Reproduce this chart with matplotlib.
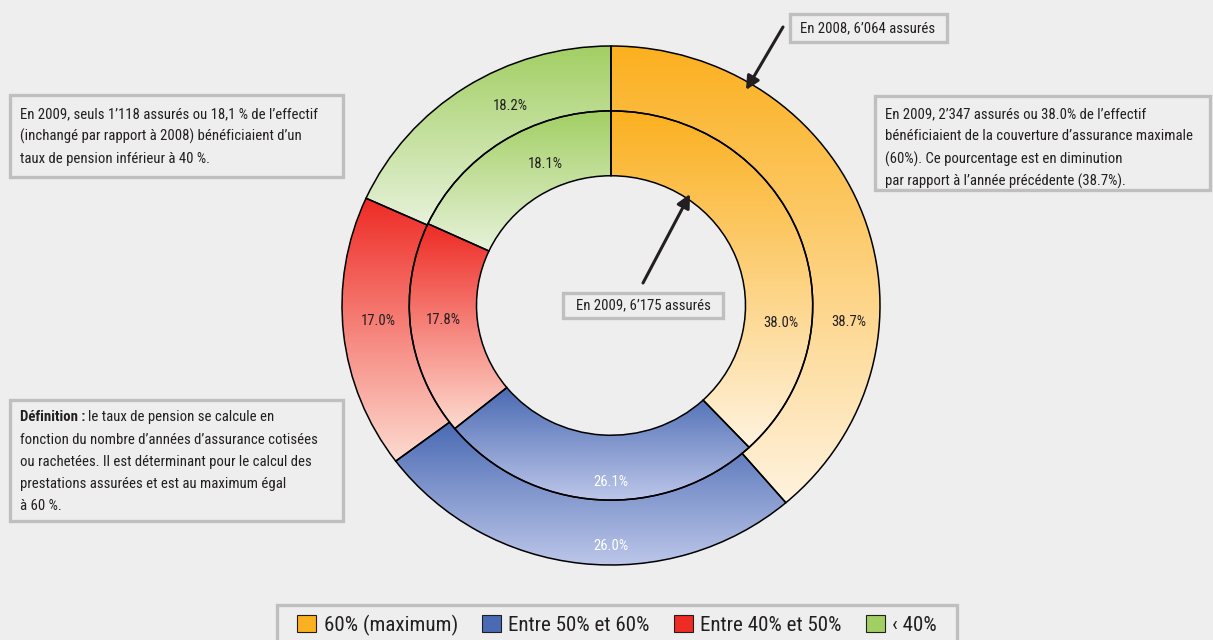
"""
Taux de pension des assures : anneau exterieur 2008, anneau interieur 2009.
Chaque secteur est rempli d'un degrade vertical (fonce en haut, pale en bas).
Sortie : out.png
"""

import numpy as np
import matplotlib.pyplot as plt
from matplotlib import font_manager
from matplotlib.colors import LinearSegmentedColormap
from matplotlib.patches import Rectangle, Patch

# police etroite si disponible, sinon on se rabat sur ce qui existe
dispo = {f.name for f in font_manager.fontManager.ttflist}
POLICE = next((n for n in ["Liberation Sans Narrow", "Roboto Condensed", "Open Sans Condensed",
                           "Noto Sans Display", "Lato", "Roboto"] if n in dispo), "DejaVu Sans")
plt.rcParams["font.family"] = [POLICE, "DejaVu Sans"]

W, H = 1213, 640
FOND = "#eeeeee"
GRIS = "#bfbfbf"
NOIR = "#231f20"

categories = ["60% (maximum)", "Entre 50% et 60%", "Entre 40% et 50%", "\u2039 40%"]
part_2008 = [38.7, 26.0, 17.0, 18.2]   # anneau exterieur
part_2009 = [38.0, 26.1, 17.8, 18.1]   # anneau interieur

couleur_haut = ["#fbb01f", "#4a6ab3", "#ee2b25", "#a2cf63"]
couleur_bas = ["#fff3df", "#bcc6e9", "#fddbd0", "#e7f2da"]
couleur_texte = [NOIR, "white", NOIR, NOIR]

# etiquettes placees a la main comme dans l'original : (angle en degres, rayon)
pos_2008 = [(-4, 0.885), (-90, 0.925), (184, 0.868), (116, 0.856)]
pos_2009 = [(-6, 0.635), (-90, 0.68), (185, 0.626), (114, 0.598)]

# centre et rayons de l'anneau en pixels (l'original est un peu etire en largeur)
CX, CY = 611, 305.5
RX, RY = 269, 259.5

TAILLE = 10      # recalculee dans main() selon la largeur mesuree
TAILLE_LEG = 14


def taille_pour(fig, s, largeur, **kw):
    # taille de police telle que s occupe `largeur` pixels
    t = fig.text(0, 0, s, fontsize=10, **kw)
    fig.canvas.draw()
    w = t.get_window_extent(fig.canvas.get_renderer()).width
    t.remove()
    return 10 * largeur / w


def boite(fig, x0, y0, x1, y1):
    # cadre gris, coordonnees en pixels depuis le coin haut gauche
    fig.add_artist(Rectangle((x0 / W, 1 - y1 / H), (x1 - x0) / W, (y1 - y0) / H,
                             transform=fig.transFigure, fc=FOND, ec=GRIS, lw=2.4))


def texte(fig, x, y, s, **kw):
    return fig.text(x / W, 1 - y / H, s, color=NOIR, fontsize=TAILLE, va="center", **kw)


def anneau(ax, parts, rayon):
    wedges, _ = ax.pie(parts, radius=rayon, startangle=90, counterclock=False,
                       colors=couleur_haut,
                       wedgeprops=dict(width=0.25, edgecolor="black", linewidth=1.1))
    grad = np.linspace(0, 1, 256).reshape(-1, 1)
    for w, haut, bas in zip(wedges, couleur_haut, couleur_bas):
        w.set_facecolor("none")
        w.set_zorder(3)
        bb = w.get_path().get_extents()
        cmap = LinearSegmentedColormap.from_list("", [bas, haut])
        im = ax.imshow(grad, cmap=cmap, origin="lower", aspect="auto",
                       extent=[bb.x0, bb.x1, bb.y0, bb.y1], zorder=2,
                       interpolation="bilinear")
        im.set_clip_path(w)


def etiquettes(ax, parts, positions):
    for v, (a, r), c in zip(parts, positions, couleur_texte):
        t = np.radians(a)
        ax.text(r * np.cos(t), r * np.sin(t), f"{v:.1f}%", ha="center", va="center",
                color=c, fontsize=TAILLE, zorder=4)


def fleche(ax, x0, y0, x1, y1):
    ax.annotate("", xy=(x1, H - y1), xycoords="figure pixels",
                xytext=(x0, H - y0), textcoords="figure pixels",
                arrowprops=dict(arrowstyle="-|>", color=NOIR, lw=2.2,
                                mutation_scale=20, shrinkA=0, shrinkB=0),
                zorder=6)


def main():
    global TAILLE, TAILLE_LEG
    fig = plt.figure(figsize=(W / 100, H / 100), dpi=100, facecolor=FOND)

    TAILLE = taille_pour(fig, "En 2009, seuls 1\u2019118 assurés ou 18,1 % de l\u2019effectif", 293)
    TAILLE_LEG = taille_pour(fig, "60% (maximum)", 133)

    ax = fig.add_axes([0, 0, 1, 1])
    ax.set_facecolor("none")

    anneau(ax, part_2008, 1.0)
    anneau(ax, part_2009, 0.75)
    etiquettes(ax, part_2008, pos_2008)
    etiquettes(ax, part_2009, pos_2009)

    ax.set_aspect("auto")
    ax.set_xlim(-CX / RX, (W - CX) / RX)
    ax.set_ylim(-(H - CY) / RY, CY / RY)
    ax.axis("off")

    # encadres de commentaires
    boite(fig, 790, 14, 947, 42)
    texte(fig, 868, 28, "En 2008, 6\u2019064 assurés", ha="center")

    boite(fig, 563, 293, 723, 318)
    texte(fig, 643, 305.5, "En 2009, 6\u2019175 assurés", ha="center")

    boite(fig, 10, 95, 343, 177)
    lignes = ["En 2009, seuls 1\u2019118 assurés ou 18,1 % de l\u2019effectif",
              "(inchangé par rapport à 2008) bénéficiaient d\u2019un",
              "taux de pension inférieur à 40 %."]
    for i, s in enumerate(lignes):
        texte(fig, 20, 114 + i * 22.5, s)

    boite(fig, 875, 96, 1210, 190)
    lignes = ["En 2009, 2\u2019347 assurés ou 38.0% de l\u2019effectif",
              "bénéficiaient de la couverture d\u2019assurance maximale",
              "(60%). Ce pourcentage est en diminution",
              "par rapport à l\u2019année précédente (38.7%)."]
    for i, s in enumerate(lignes):
        texte(fig, 885, 114 + i * 22.5, s)

    boite(fig, 10, 400, 343, 521)
    gras = texte(fig, 20, 417, "Définition :", fontweight="bold")
    fig.canvas.draw()
    bb = gras.get_window_extent(fig.canvas.get_renderer())
    texte(fig, bb.x1 + 3, 417, "le taux de pension se calcule en")
    lignes = ["fonction du nombre d\u2019années d\u2019assurance cotisées",
              "ou rachetées. Il est déterminant pour le calcul des",
              "prestations assurées et est au maximum égal",
              "à 60 %."]
    for i, s in enumerate(lignes):
        texte(fig, 20, 439.5 + i * 22.3, s)

    fleche(ax, 783, 27, 746, 90)
    fleche(ax, 643, 283, 690, 194)

    # legende : cadre dessine a part (marges laterales plus larges qu'en haut)
    boite(fig, 277, 605, 957, 655)
    poignees = [Patch(fc=c, ec=NOIR, lw=0.8) for c in couleur_haut]
    leg = fig.legend(poignees, categories, ncol=4, loc="center",
                     bbox_to_anchor=(617 / W, 1 - 625 / H), fontsize=TAILLE_LEG,
                     handlelength=0.9, handleheight=0.9, handletextpad=0.35,
                     columnspacing=1.15, borderpad=0, borderaxespad=0, frameon=False)
    for t in leg.get_texts():
        t.set_color(NOIR)

    fig.savefig("out.png", dpi=100, facecolor=FOND)


if __name__ == "__main__":
    main()
